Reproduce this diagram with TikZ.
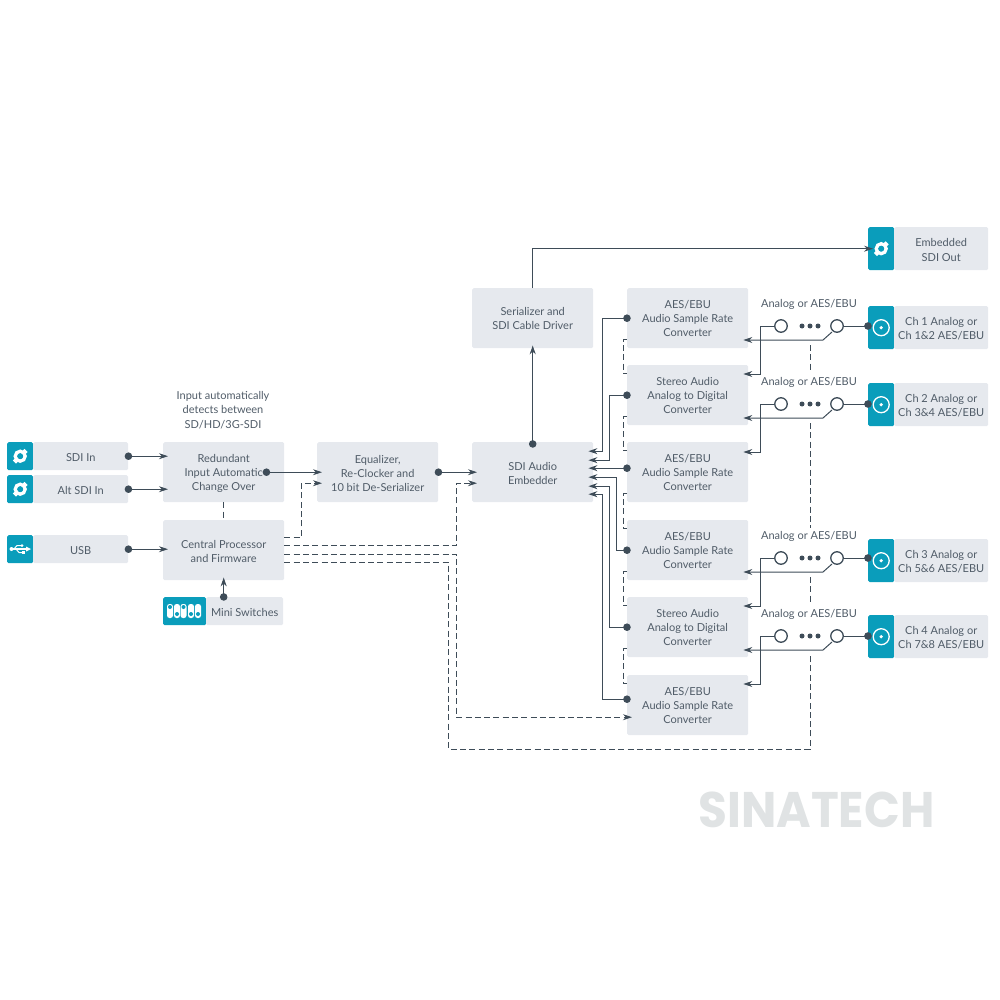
\documentclass[tikz,border=0pt]{standalone}
\usepackage{fontspec}
\setmainfont{Lato}
\newfontfamily\markfont{Poppins}
\usepackage{tikz}
\usetikzlibrary{positioning,arrows.meta,calc}
\definecolor{bgray}{RGB}{230,233,238}
\definecolor{bteal}{RGB}{10,157,187}
\definecolor{bink}{RGB}{62,76,88}
\definecolor{btext}{RGB}{80,92,104}
\definecolor{bmark}{RGB}{224,227,228}
\newcommand{\lift}{\rule{0pt}{10.8pt}}
\tikzset{
  block/.style={fill=bgray,rounded corners=1.5pt,anchor=north west,inner sep=0pt,align=center,
    text=btext,minimum width=121pt,minimum height=60pt},
  port/.style={block,minimum width=95pt,minimum height=28pt},
  chbox/.style={block,minimum width=94pt,minimum height=43pt},
  tealbox/.style={fill=bteal,rounded corners=1.5pt,anchor=north west,inner sep=0pt,
    minimum width=26pt,minimum height=28pt},
  wire/.style={draw=bink,line width=1pt},
  dotwire/.style={wire,{Circle[length=7.5pt]}-{Stealth[length=9pt,width=6pt]},shorten <=-3.7pt,shorten >=-5pt},
  dotline/.style={wire,{Circle[length=7.5pt]}-,shorten <=-3.7pt},
  tipwire/.style={wire,-{Stealth[length=9pt,width=6pt]},shorten >=-5pt},
  dashwire/.style={draw=bink,line width=1pt,dash pattern=on 6pt off 3.3pt},
  dashtip/.style={dashwire,-{Stealth[length=9pt,width=6pt]},shorten >=-5pt},
  swcircle/.style={circle,draw=bink,fill=white,line width=1.3pt,minimum size=12.5pt,inner sep=0pt},
  swdot/.style={circle,fill=bink,minimum size=5pt,inner sep=0pt},
  bncicon/.pic={
    \draw[white,line width=3.6pt] (0,0) circle (4.8pt);
    \fill[white,rotate=-45] (-2.2pt,3pt) rectangle (2.2pt,8.3pt);
    \fill[white,rotate=135] (-2.2pt,3pt) rectangle (2.2pt,8.3pt);
    \fill[bteal] (0,0) circle (3pt);
  },
  coaxicon/.pic={
    \draw[white,line width=1.3pt] (0,0) circle (8pt);
    \fill[white] (0,0) circle (1.8pt);
  },
}
\begin{document}
\begin{tikzpicture}[x=1pt,y=-1pt,font=\fontsize{11}{14.2}\selectfont]
  \useasboundingbox (0,0) rectangle (1000,1000);
  \node[tealbox] (sdiport) at (7,442) {};
  \node[port] (sdiin) at (33,442) {\lift SDI In};
  \node[tealbox] (altport) at (7,475) {};
  \node[port] (altin) at (33,475) {\lift Alt SDI In};
  \node[tealbox] (usbport) at (7,535) {};
  \node[port] (usb) at (33,535) {\lift USB};
  \pic at (sdiport) {bncicon};
  \pic at (altport) {bncicon};
  \draw[white,line width=1.3pt] (11,549) -- (27,549);
  \fill[white] (11.5,549) circle (2pt);
  \fill[white] (26,546.5) -- (31,549) -- (26,551.5) -- cycle;
  \draw[white,line width=1pt] (14,549) -- (17,545.5) -- (21,545.5);
  \draw[white,line width=1pt] (16,549) -- (19,552.5) -- (22,552.5);
  \fill[white] (22,545.5) circle (1.5pt);
  \fill[white] (21.5,551) rectangle (24.5,554);

  \node[block] (redundant) at (163,442) {\lift Redundant\\Input Automatic\\Change Over};
  \node[block] (central) at (163,520) {\lift Central Processor\\and Firmware};
  \node[tealbox,minimum width=43pt] (miniport) at (163,597) {};
  \node[port,minimum width=77pt] (mini) at (206,597) {\lift Mini Switches};
  \foreach \xa/\ya in {170/607,177/614,183.5/607,191/614,198/614} {
    \fill[white,rounded corners=2.5pt] (\xa-3,604) rectangle (\xa+3,618);
    \fill[bteal] (\xa,\ya) circle (2pt);
  }
  \node[text=btext,align=center] (autonote) at (223,410) {Input automatically\\detects between\\SD/HD/3G-SDI};
  \node[block] (equalizer) at (317,442) {\lift Equalizer,\\Re-Clocker and\\10 bit De-Serializer};
  \node[block] (embedder) at (472,442) {\lift SDI Audio\\Embedder};
  \node[block] (serial) at (472,288) {Serializer and\\SDI Cable Driver};

  \node[block] (conva) at (627,288) {AES/EBU\\Audio Sample Rate\\Converter};
  \node[block] (convb) at (627,365) {Stereo Audio\\Analog to Digital\\Converter};
  \node[block] (convc) at (627,442) {AES/EBU\\Audio Sample Rate\\Converter};
  \node[block] (convd) at (627,520) {AES/EBU\\Audio Sample Rate\\Converter};
  \node[block] (conve) at (627,597) {Stereo Audio\\Analog to Digital\\Converter};
  \node[block] (convf) at (627,675) {AES/EBU\\Audio Sample Rate\\Converter};

  \node[tealbox,minimum height=43pt] (outport) at (868,227) {};
  \node[chbox] (sdiout) at (894,227) {\lift Embedded\\SDI Out};
  \pic at (outport) {bncicon};

  \draw[dotwire] (sdiin.east) -- (sdiin.east -| redundant.west);
  \draw[dotwire] (altin.east) -- (altin.east -| redundant.west);
  \draw[dotwire] (usb.east) -- (usb.east -| central.west);
  \draw[dotwire,shorten >=-3pt] (central.south |- mini.north) -- (central.south);
  \draw[dotwire] ([xshift=-18pt]redundant.east) -- (equalizer.west);
  \draw[dotwire] (equalizer.east) -- (embedder.west);
  \draw[dotwire,shorten >=-3pt,shorten <=-5.7pt] (embedder.north) -- (serial.south);
  \draw[tipwire] (serial.north) |- (outport.west);

  \draw[dashwire] (redundant.south) -- (central.north);
  \draw[dashtip] ([yshift=13pt]central.east) -- ++(17,0) |- ([yshift=-11pt]equalizer.west);
  \draw[dashtip] ([yshift=5pt]central.east) -- ++(172,0) |- ([yshift=-11pt]embedder.west);
  \draw[dashtip] ([yshift=-4pt]central.east) -- ++(172,0) |- ([yshift=-12pt]convf.west);

  \foreach \conup/\condn in {conva/convb,convb/convc,convc/convd,convd/conve,conve/convf}
    \draw[dashwire] ([yshift=-21.5pt]\conup.west) -- ++(-4,0) |- ([yshift=22pt]\condn.west);

  \draw[dotwire] (conva.west) -- ++(-25,0) |- ([yshift=21pt]embedder.east);
  \draw[dotwire] (convb.west) -- ++(-18,0) |- ([yshift=12pt]embedder.east);
  \draw[dotwire] ([yshift=4pt]convc.west) -- ([yshift=4pt]embedder.east);
  \draw[dotwire] (convd.west) -- ++(-11,0) |- ([yshift=-5pt]embedder.east);
  \draw[dotwire] (conve.west) -- ++(-18,0) |- ([yshift=-14pt]embedder.east);
  \draw[dotwire] ([yshift=6pt]convf.west) -- ++(-25,0) |- ([yshift=-22pt]embedder.east);

  \foreach \ch/\yrow/\ytop/\conup/\condn/\chtext in {
      1/326/306/conva/convb/{\lift Ch 1 Analog or\\Ch 1\&2 AES/EBU},
      2/404/383/convb/convc/{\lift Ch 2 Analog or\\Ch 3\&4 AES/EBU},
      3/558/539/convd/conve/{\lift Ch 3 Analog or\\Ch 5\&6 AES/EBU},
      4/636/615/conve/convf/{\lift Ch 4 Analog or\\Ch 7\&8 AES/EBU}} {
    \node[tealbox,minimum height=43pt] (chport\ch) at (868,\ytop) {};
    \node[chbox] (chin\ch) at (894,\ytop) {\chtext};
    \pic at (chport\ch) {coaxicon};
    \node[text=btext] (swlabel\ch) at (809,\yrow-22) {Analog or AES/EBU};
    \node[swdot] (swm\ch) at (810,\yrow) {};
    \node[swdot] (swp\ch) at (802,\yrow) {};
    \node[swdot] (swq\ch) at (818,\yrow) {};
    \draw[tipwire] ($(837,\yrow)+(-5,6)$) -- ++(-9,8) coordinate (blade\ch) -- (blade\ch -| \conup.east);
    \draw[tipwire] (781,\yrow) -- ++(-21,0) -- ++(0,48) coordinate (leg\ch) -- (leg\ch -| \condn.east);
    \node[swcircle] (swl\ch) at (781,\yrow) {};
    \node[swcircle] (swr\ch) at (837,\yrow) {};
    \draw[dotline] (swr\ch.east -| chport\ch.west) -- (swr\ch.east);
  }

  \draw[dashwire] ([yshift=-19pt]swm1.center) -- ([yshift=32pt]swm2.center);
  \draw[dashwire] ([yshift=-19pt]swm2.center) -- ([yshift=30pt]swm3.center);
  \draw[dashwire] ([yshift=-19pt]swm3.center) -- ([yshift=32pt]swm4.center);
  \draw[dashwire] ([yshift=-12pt]central.east) -- ++(164,0) -- ++(0,187) -| ([yshift=-19pt]swm4.center);

  \node[text=bmark,xscale=.94,font=\markfont\bfseries\fontsize{50}{50}\selectfont] (watermark) at (816.5,810) {SINATECH};
\end{tikzpicture}
\end{document}
